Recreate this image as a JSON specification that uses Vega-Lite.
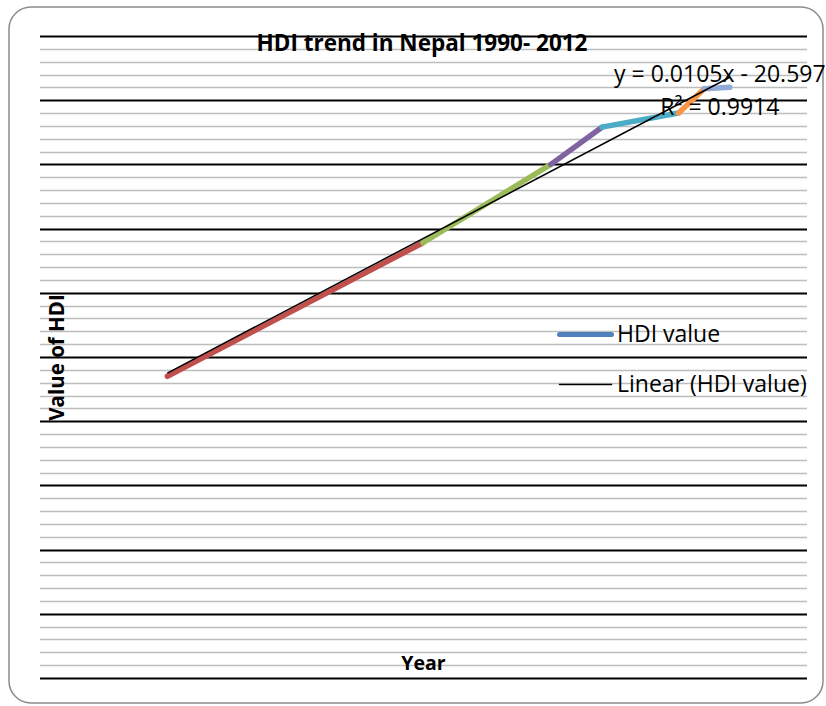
{
  "$schema": "https://vega.github.io/schema/vega-lite/v6.json",
  "width": 814,
  "height": 696,
  "autosize": {"type": "none"},
  "padding": {"left": 9, "top": 7, "right": 3, "bottom": 3},
  "background": "white",
  "config": {
    "view": {"stroke": "#8c8c8c", "strokeWidth": 1.5, "cornerRadius": 22, "fill": "white"},
    "font": "Open Sans"
  },
  "title": {
    "text": "HDI trend in Nepal 1990- 2012",
    "font": "Open Sans",
    "fontSize": 22.5,
    "fontWeight": "bold",
    "color": "black",
    "anchor": "middle",
    "frame": "group",
    "dx": 6,
    "dy": 22,
    "offset": -44,
    "baseline": "alphabetic"
  },
  "data": {
    "values": [
      {"year": 1990, "hdi": 0.295},
      {"year": 2000, "hdi": 0.399},
      {"year": 2005, "hdi": 0.460},
      {"year": 2007, "hdi": 0.489},
      {"year": 2010, "hdi": 0.500},
      {"year": 2011, "hdi": 0.519},
      {"year": 2012, "hdi": 0.520}
    ]
  },
  "encoding": {
    "x": {
      "field": "year", "type": "quantitative",
      "scale": {"domain": [1983.807, 2015.645], "nice": false, "zero": false},
      "axis": {
        "title": "Year", "labels": false, "ticks": false, "domain": false, "grid": false,
        "titleFont": "Open Sans", "titleFontSize": 19.5, "titleFontWeight": "bold", "titleColor": "black",
        "titleX": 414, "titleY": -34, "titleBaseline": "alphabetic", "titleAlign": "center"
      }
    },
    "y": {
      "field": "hdi", "type": "quantitative",
      "scale": {"domain": [0.04053, 0.582586], "nice": false, "zero": false},
      "axis": {
        "title": "Value of HDI", "labels": false, "ticks": false, "domain": false, "grid": true,
        "values": [0.06,0.07,0.08,0.09,0.10,0.11,0.12,0.13,0.14,0.15,0.16,0.17,0.18,0.19,0.20,0.21,0.22,0.23,0.24,0.25,0.26,0.27,0.28,0.29,0.30,0.31,0.32,0.33,0.34,0.35,0.36,0.37,0.38,0.39,0.40,0.41,0.42,0.43,0.44,0.45,0.46,0.47,0.48,0.49,0.50,0.51,0.52,0.53,0.54,0.55,0.56],
        "gridColor": {"condition": {"test": "round(datum.value*100) % 5 === 1", "value": "#000000"}, "value": "#bdbdbd"},
        "gridWidth": {"condition": {"test": "round(datum.value*100) % 5 === 1", "value": 2}, "value": 1.6},
        "gridOpacity": 1,
        "gridDash": [0, 30.5, 767, 3000],
        "titleFont": "Open Sans", "titleFontSize": 20.5, "titleFontWeight": "bold", "titleColor": "black",
        "titleAngle": -90, "titleX": 54, "titleY": 350, "titleBaseline": "alphabetic", "titleAlign": "center"
      }
    }
  },
  "layer": [
    {
      "transform": [
        {"window": [{"op": "lag", "field": "year", "as": "year0"}, {"op": "lag", "field": "hdi", "as": "hdi0"}], "sort": [{"field": "year"}]},
        {"filter": "datum.year0 != null"}
      ],
      "mark": {"type": "rule", "strokeWidth": 5.5, "strokeCap": "round"},
      "encoding": {
        "x2": {"field": "year0"},
        "y2": {"field": "hdi0"},
        "color": {
          "field": "year", "type": "nominal",
          "scale": {"domain": [2000, 2005, 2007, 2010, 2011, 2012], "range": ["#C0504D", "#9BBB59", "#8064A2", "#4BACC6", "#F79646", "#93ABD9"]},
          "legend": null
        }
      }
    },
    {
      "transform": [{"regression": "hdi", "on": "year", "extent": [1990, 2012]}],
      "mark": {"type": "line", "strokeWidth": 1.5},
      "encoding": {
        "color": {
          "datum": "Linear (HDI value)", "type": "nominal",
          "scale": {"domain": ["HDI value", "Linear (HDI value)"], "range": ["#4F81BD", "#000000"]},
          "legend": {
            "title": null, "orient": "none", "legendX": 565, "legendY": 316,
            "symbolType": "stroke", "symbolSize": 2704, "symbolStrokeWidth": 1.5,
            "labelFont": "Open Sans", "labelFontSize": 23, "labelColor": "black", "labelLimit": 400, "labelOffset": 20,
            "rowPadding": 26, "padding": 0,
            "encode": {"symbols": {"update": {"strokeWidth": {"signal": "datum.value === 'HDI value' ? 5 : 1.5"}, "strokeCap": {"value": "round"}}}}
          }
        }
      }
    },
    {
      "transform": [{"regression": "hdi", "on": "year", "extent": [1990, 2012]}, {"filter": "datum.year > 2011"}],
      "mark": {"type": "text", "align": "center", "baseline": "alphabetic", "dx": -10, "dy": 5, "fontSize": 23, "font": "Open Sans", "lineHeight": 33, "color": "black"},
      "encoding": {
        "text": {"value": ["y = 0.0105x - 20.597", "R² = 0.9914"]}
      }
    }
  ],
  "resolve": {"scale": {"color": "independent"}}
}
